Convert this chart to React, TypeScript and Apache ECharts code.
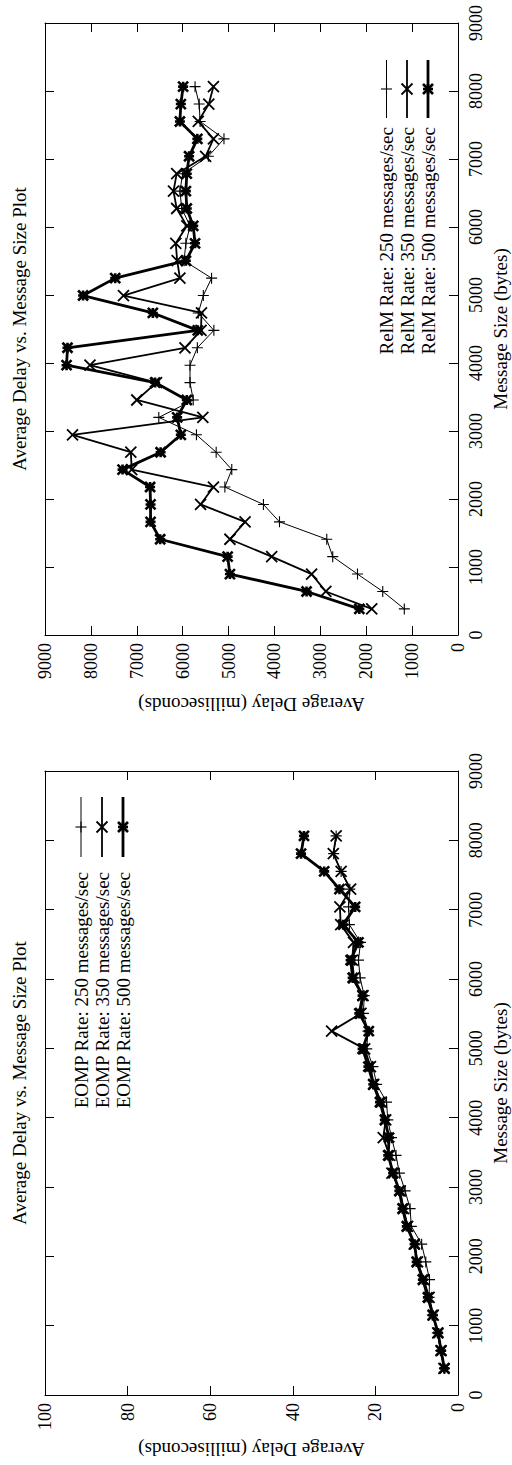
import React, { useEffect, useRef } from "react";
import * as echarts from "echarts";

// ---------- data ----------
const messageSizes = [
  384, 640, 896, 1152, 1408, 1664, 1920, 2176, 2432, 2688, 2944, 3200, 3456, 3712, 3968, 4224,
  4480, 4736, 4992, 5248, 5504, 5760, 6016, 6272, 6528, 6784, 7040, 7296, 7552, 7808, 8064,
];

const relm250 = [
  1170, 1640, 2190, 2730, 2860, 3890, 4240, 5080, 4930, 5270, 5700, 6520, 5770, 5840, 5840, 5680,
  5320, 5660, 5550, 5370, 5970, 5930, 5840, 6020, 6060, 6000, 5440, 5100, 5620, 5640, 5730,
];
const relm350 = [
  1880, 2880, 3190, 4060, 4970, 4640, 5610, 5330, 7110, 7130, 8400, 5560, 7000, 6570, 8020, 5950,
  5600, 5590, 7290, 6060, 6120, 6150, 5910, 6130, 6200, 6130, 5500, 5330, 5660, 5430, 5330,
];
const relm500 = [
  2150, 3300, 4970, 5020, 6490, 6700, 6700, 6710, 7310, 6480, 6040, 6120, 5910, 6600, 8530, 8510,
  5670, 6650, 8170, 7470, 5930, 5730, 5770, 5910, 5930, 5910, 5860, 5680, 6060, 6040, 5990,
];

const eomp250 = [
  3.3, 4.2, 5.0, 6.2, 7.0, 6.9, 7.8, 8.8, 11.3, 11.6, 12.8, 14.2, 15.0, 16.1, 17.0, 17.3,
  19.7, 20.6, 22.1, 21.8, 22.9, 22.7, 23.7, 24.1, 23.6, 26.3, 26.5, 26.2, 28.3, 30.1, 29.5,
];
const eomp350 = [
  3.4, 4.1, 4.9, 6.0, 7.0, 8.3, 9.8, 10.6, 12.2, 13.2, 14.0, 16.0, 16.6, 18.1, 17.5, 18.6,
  20.4, 21.2, 22.6, 30.6, 23.5, 23.0, 25.2, 25.6, 25.3, 28.4, 28.6, 26.0, 28.3, 30.2, 29.5,
];
const eomp500 = [
  3.3, 4.1, 4.8, 6.1, 7.3, 8.5, 10.0, 10.5, 12.4, 13.4, 14.2, 15.7, 16.9, 16.7, 17.7, 18.9,
  20.5, 21.7, 23.1, 21.6, 23.9, 23.1, 25.5, 26.0, 24.1, 27.8, 24.9, 28.7, 32.4, 38.0, 37.3,
];

const sizeTicks = [0, 1000, 2000, 3000, 4000, 5000, 6000, 7000, 8000, 9000];
const relmDelayTicks = [0, 1000, 2000, 3000, 4000, 5000, 6000, 7000, 8000, 9000];
const eompDelayTicks = [0, 20, 40, 60, 80, 100];

const rates = ["250", "350", "500"];
const titleText = "Average Delay vs. Message Size Plot";
const sizeAxisName = "Message Size (bytes)";
const delayAxisName = "Average Delay (milliseconds)";

// ---------- styles ----------
const FONT = "'Liberation Serif', 'Times New Roman', serif";
const TICK_FS = 18;
const TEXT_FS = 19;

const SYM = {
  plus: "path://M5 0L5 10M0 5L10 5",
  cross: "path://M0 0L10 10M10 0L0 10",
  star: "path://M5 0L5 10M0 5L10 5M0 0L10 10M10 0L0 10",
};
const seriesStyles = [
  { symbol: SYM.plus, size: 11, lw: 1, bw: 1.1 },
  { symbol: SYM.cross, size: 11, lw: 1.8, bw: 1.8 },
  { symbol: SYM.star, size: 10, lw: 2.8, bw: 2.6 },
];

const toPairs = (vals: number[]) => messageSizes.map((s, i) => [vals[i], s]);

function axisPair(
  gridIndex: number,
  ticks: number[],
  inverse: boolean,
  mainPos: string,
  mirrorPos: string,
  labelMargin: number
) {
  const base = {
    type: "value",
    gridIndex,
    min: ticks[0],
    max: ticks[ticks.length - 1],
    interval: ticks[1] - ticks[0],
    inverse,
    splitLine: { show: false },
    axisLine: { show: true, onZero: false, lineStyle: { color: "#000", width: 1 } },
    axisTick: { show: true, inside: true, length: 9, lineStyle: { color: "#000", width: 1 } },
  };
  return [
    {
      ...base,
      position: mainPos,
      axisLabel: {
        show: true,
        rotate: 90,
        margin: labelMargin,
        color: "#000",
        fontFamily: FONT,
        fontSize: TICK_FS,
        formatter: (v: number) => String(v),
      },
    },
    { ...base, position: mirrorPos, axisLabel: { show: false } },
  ];
}

type PlotGeom = {
  top: number;
  height: number;
  delayTitleY: number;
  legendX: number[];
  legendY1: number;
  legendY2: number;
  legendTextY: number;
  name: string;
};

const LEFT = 45;
const RIGHT_X = 458;

const plots: PlotGeom[] = [
  { top: 23, height: 612, delayTitleY: 704, legendX: [386.5, 407, 428], legendY1: 60, legendY2: 118, legendTextY: 127, name: "RelM" },
  { top: 771, height: 624, delayTitleY: 1449, legendX: [81, 102, 123], legendY1: 797, legendY2: 857, legendTextY: 872, name: "EOMP" },
];

function markerGraphics(kind: number, cx: number, cy: number) {
  const st = seriesStyles[kind];
  const h = st.size / 2;
  const segs: number[][] = [];
  if (kind === 0 || kind === 2) {
    segs.push([cx - h, cy, cx + h, cy], [cx, cy - h, cx, cy + h]);
  }
  if (kind === 1 || kind === 2) {
    segs.push([cx - h, cy - h, cx + h, cy + h], [cx + h, cy - h, cx - h, cy + h]);
  }
  return segs.map((s) => ({
    type: "line",
    shape: { x1: s[0], y1: s[1], x2: s[2], y2: s[3] },
    style: { stroke: "#000", lineWidth: st.bw },
    silent: true,
  }));
}

function textEl(text: string, x: number, y: number, rotation: number, align: string, fs: number) {
  return {
    type: "text",
    x,
    y,
    rotation,
    silent: true,
    style: {
      text,
      fill: "#000",
      fontFamily: FONT,
      fontSize: fs,
      align,
      verticalAlign: "middle",
      textAlign: align,
      textVerticalAlign: "middle",
    },
  };
}

export default function App() {
  const ref = useRef<HTMLDivElement>(null);

  useEffect(() => {
    if (!ref.current) return;
    const chart = echarts.init(ref.current, undefined, { renderer: "svg" });

    const grids = plots.map((p) => ({
      left: LEFT,
      top: p.top,
      width: RIGHT_X - LEFT,
      height: p.height,
      show: false,
      containLabel: false,
    }));

    const xAxes = [
      ...axisPair(0, relmDelayTicks, true, "bottom", "top", 8),
      ...axisPair(1, eompDelayTicks, true, "bottom", "top", 8),
    ];
    const yAxes = [
      ...axisPair(0, sizeTicks, false, "right", "left", 9),
      ...axisPair(1, sizeTicks, false, "right", "left", 9),
    ];

    const dataSets = [
      [relm250, relm350, relm500],
      [eomp250, eomp350, eomp500],
    ];

    const series: any[] = [];
    dataSets.forEach((set, gi) => {
      set.forEach((vals, k) => {
        const st = seriesStyles[k];
        series.push({
          type: "line",
          name: `${plots[gi].name} Rate: ${rates[k]} messages/sec`,
          xAxisIndex: gi * 2,
          yAxisIndex: gi * 2,
          data: toPairs(vals),
          symbol: st.symbol,
          symbolSize: st.size,
          showAllSymbol: true,
          z: 2 + k,
          silent: true,
          lineStyle: { color: "#000", width: st.lw },
          itemStyle: { color: "#000", borderColor: "#000", borderWidth: st.bw },
          emphasis: { disabled: true },
        });
      });
    });

    const graphics: any[] = [];
    plots.forEach((p) => {
      const cy = p.top + p.height / 2;
      graphics.push(textEl(titleText, 19, cy, Math.PI / 2, "center", TEXT_FS));
      graphics.push(textEl(sizeAxisName, 500.5, cy, Math.PI / 2, "center", TEXT_FS));
      graphics.push(textEl(delayAxisName, (LEFT + RIGHT_X) / 2, p.delayTitleY, Math.PI, "center", TEXT_FS));
      p.legendX.forEach((lx, k) => {
        graphics.push({
          type: "line",
          shape: { x1: lx, y1: p.legendY1, x2: lx, y2: p.legendY2 },
          style: { stroke: "#000", lineWidth: seriesStyles[k].lw },
          silent: true,
        });
        graphics.push(...markerGraphics(k, lx, (p.legendY1 + p.legendY2) / 2));
        graphics.push(
          textEl(`${p.name} Rate: ${rates[k]} messages/sec`, lx, p.legendTextY, Math.PI / 2, "right", TEXT_FS)
        );
      });
    });

    chart.setOption({
      animation: false,
      backgroundColor: "#fff",
      grid: grids,
      xAxis: xAxes,
      yAxis: yAxes,
      series,
      graphic: graphics,
    });

    return () => chart.dispose();
  }, []);

  return (
    <div
      ref={ref}
      style={{ position: "absolute", left: 0, top: 0, width: 512, height: 1465, background: "#fff" }}
    />
  );
}
